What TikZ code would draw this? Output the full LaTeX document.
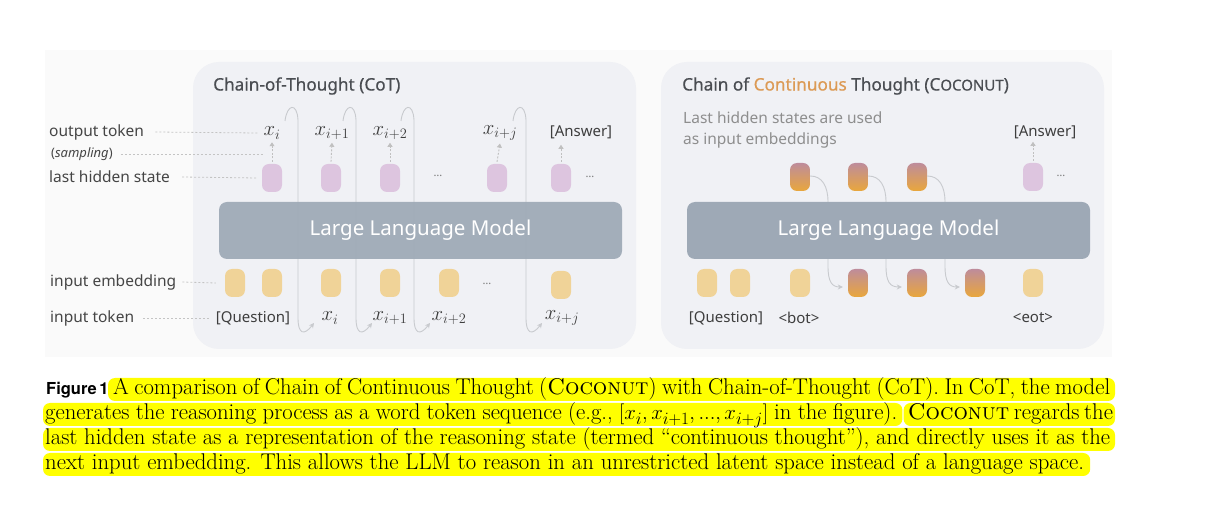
\documentclass[tikz,border=0pt]{standalone}
\usepackage{fontspec}
\newfontfamily\dg{Noto Sans}
\newfontfamily\dgt{Noto Sans}[FakeBold=0.5]
\newfontfamily\hv{TeX Gyre Heros}
\usetikzlibrary{arrows.meta,calc,backgrounds}
\definecolor{outerc}{HTML}{FAFAFA}
\definecolor{panelc}{HTML}{F0F1F5}
\definecolor{llmc}{HTML}{9EA9B6}
\definecolor{hidc}{HTML}{DDC5DF}
\definecolor{embc}{HTML}{F0D398}
\definecolor{gtop}{HTML}{BE8C9B}
\definecolor{gbot}{HTML}{E9A73C}
\definecolor{labc}{HTML}{454545}
\definecolor{tokc}{HTML}{3E3E3E}
\definecolor{ttlc}{HTML}{4A4D52}
\definecolor{subc}{HTML}{8E8E8E}
\definecolor{orc}{HTML}{DC9A55}
\definecolor{leadc}{HTML}{C4C4C4}
\definecolor{arrc}{HTML}{C0C0C0}
\definecolor{loopc}{HTML}{C8CACE}
\definecolor{dotc}{HTML}{777777}
\definecolor{hlc}{HTML}{FFFF00}
\newcommand\capf{\fontsize{22.7}{25}\selectfont}
\tikzset{
 panel/.style={fill=panelc, rounded corners=26pt},
 llmbox/.style={fill=llmc, rounded corners=8pt},
 tokbox/.style={minimum width=20pt, minimum height=28pt, rounded corners=7pt, inner sep=0pt},
 hidbox/.style={tokbox, fill=hidc},
 embbox/.style={tokbox, fill=embc},
 ctbox/.style={tokbox, top color=gtop, bottom color=gbot},
 lab/.style={font=\dg\fontsize{15.5}{18}\selectfont, text=labc, anchor=west},
 tokm/.style={font=\fontsize{20}{22}\selectfont, text=tokc},
 tokt/.style={font=\dg\fontsize{15}{18}\selectfont, text=tokc},
 dotsn/.style={font=\dg\fontsize{11}{12}\selectfont, text=dotc},
 leader/.style={draw=leadc, line width=0.8pt, dash pattern=on 2pt off 2pt},
 samparr/.style={draw=arrc, line width=0.9pt, dash pattern=on 2pt off 1.5pt, -{Triangle[length=4pt,width=5pt]}},
 loopline/.style={draw=loopc, line width=0.9pt, -{Stealth[length=5pt,width=5pt]}},
 llmtext/.style={font=\dg\fontsize{20.5}{24}\selectfont, text=white},
 ttl/.style={font=\dgt\fontsize{17.2}{21}\selectfont, text=ttlc, anchor=west},
 subt/.style={font=\dg\fontsize{15.5}{18}\selectfont, text=subc, anchor=west},
 hlband/.style={fill=hlc, rounded corners=7pt},
 captext/.style={font=\capf, anchor=base west},
}
\begin{document}
\begin{tikzpicture}[x=1pt,y=-1pt, every node/.style={inner sep=0pt}]
\useasboundingbox (0,0) rectangle (1208,510);
\begin{scope}[on background layer]
\fill[white] (0,0) rectangle (1208,510);
\fill[outerc] (45,50) rectangle (1112,357);
\end{scope}
% panels
\fill[panel] (193,62) rectangle (636,349);
\fill[panel] (661,62) rectangle (1104,349);
% titles
\node[ttl] (t1) at (213,86) {Chain-of-Thought (CoT)};
\node[ttl] (t2) at (682,86) {Chain of \textcolor{orc}{Continuous} Thought (C{\fontsize{15}{15}\selectfont OCONUT})};
\node[subt] (s1) at (683,118) {Last hidden states are used};
\node[subt] (s2) at (683,140) {as input embeddings};
% left labels
\node[lab] (Lout) at (49,132) {output token};
\node[lab, font=\dg\fontsize{13}{15}\selectfont] (Lsamp) at (51,154) {(\textit{sampling})};
\node[lab] (Lhid) at (49,177) {last hidden state};
\node[lab] (Lemb) at (50,282) {input embedding};
\node[lab] (Ltok) at (50,318) {input token};

% ---------- CoT ----------
\node[hidbox] (h1) at (272,178) {};
\node[hidbox] (h2) at (331,178) {};
\node[hidbox] (h3) at (390,178) {};
\node[hidbox] (h4) at (497,178) {};
\node[hidbox] (h5) at (561,178) {};
\node[dotsn] (hd1) at (438,176) {…};
\node[dotsn] (hd2) at (590,177) {…};
\node[tokm] (o1) at (272,133) {$x_i$};
\node[tokm] (o2) at (332,133) {$x_{i+1}$};
\node[tokm] (o3) at (390,133) {$x_{i+2}$};
\node[tokm] (o4) at (500,133) {$x_{i+j}$};
\node[tokt] (o5) at (581,132) {[Answer]};
\node[embbox] (e1) at (235,283) {};
\node[embbox] (e2) at (272,283) {};
\node[embbox] (e3) at (331,283) {};
\node[embbox] (e4) at (390,283) {};
\node[embbox] (e5) at (449,283) {};
\node[embbox] (e6) at (561,285) {};
\node[dotsn] (ed) at (487,284) {…};
\node[tokt] (q) at (253,318) {[Question]};
\node[tokm] (i1) at (330,318) {$x_i$};
\node[tokm] (i2) at (390,318) {$x_{i+1}$};
\node[tokm] (i3) at (449,318) {$x_{i+2}$};
\node[tokm] (i4) at (562,318) {$x_{i+j}$};
% leaders
\draw[leader] ([xshift=11pt]Lout.east) -- ([xshift=-6pt]o1.west);
\draw[leader] ([xshift=8pt]Lsamp.east) -- (o1.west |- Lsamp.east);
\draw[leader] ([xshift=12pt]Lhid.east) -- ([xshift=-4pt]h1.west);
\draw[leader] ([xshift=6pt]Lemb.east) -- ([xshift=-9pt]e1.west);
\draw[leader] ([xshift=9pt]Ltok.east) -- ([xshift=-7pt]q.west);
% sampling arrows
\foreach \h/\o in {h1/o1,h2/o2,h3/o3,h4/o4} {
  \draw[samparr] ([yshift=2pt]\h.north) -- ([yshift=-3pt]\o.south);
}
\draw[samparr] ([yshift=2pt]h5.north) -- ++(0,-17);
% loops
\foreach \v in {298,356,414,526} {
  \draw[loopline] (\v-13,121) .. controls (\v-11,104) and (\v-1,102) .. (\v,120)
     -- (\v,318) .. controls (\v,334) and (\v+6,336) .. (\v+16,323);
}
% LLM
\fill[llmbox, fill opacity=0.93] (219,202) rectangle (622,259);
\node[llmtext] (llm1) at (420.5,230) {Large Language Model};

% ---------- Coconut ----------
\node[ctbox] (c1) at (800,177) {};
\node[ctbox] (c2) at (858,177) {};
\node[ctbox] (c3) at (917,177) {};
\node[hidbox] (ch) at (1033,177) {};
\node[dotsn] (cd) at (1061,176) {…};
\node[tokt] (ca) at (1045,132) {[Answer]};
\draw[samparr] ([yshift=2pt]ch.north) -- ([yshift=-3pt]ca.south -| ch.north);
\node[embbox] (f1) at (707,283) {};
\node[embbox] (f2) at (740,283) {};
\node[embbox] (f3) at (800,283) {};
\node[ctbox] (c4) at (858,283) {};
\node[ctbox] (c5) at (917,283) {};
\node[ctbox] (c6) at (975,283) {};
\node[embbox] (f4) at (1033,283) {};
\node[tokt] (cq) at (726,318) {[Question]};
\node[tokt] (cb) at (799,318) {<bot>};
\node[tokt] (ce) at (1033,318) {<eot>};
\draw[loopline] ([yshift=1pt]c1.east) .. controls (822,176) and (828,186) .. (828,202) -- (828,266) .. controls (828,282) and (832,287) .. ([shift={(-5pt,-4pt)}]c4.west);
\draw[loopline] ([yshift=1pt]c2.east) .. controls (880,176) and (886,186) .. (886,202) -- (886,266) .. controls (886,282) and (890,287) .. ([shift={(-5pt,-4pt)}]c5.west);
\draw[loopline] ([yshift=1pt]c3.east) .. controls (939,176) and (945,186) .. (945,202) -- (945,266) .. controls (945,282) and (949,287) .. ([shift={(-5pt,-4pt)}]c6.west);
\fill[llmbox] (687,202) rectangle (1090,259);
\node[llmtext] (llm2) at (888.5,230) {Large Language Model};

% ---------- Caption ----------
\node[anchor=base west, font=\hv\bfseries\fontsize{16.5}{16}\selectfont] (fig) at (46,395) {Figure\,1};
\node[captext] (l1) at (113,395) {\hbox to 997pt{A comparison of Chain of Continuous Thought (\textsc{Coconut}) with Chain-of-Thought (CoT). In CoT, the model}};
\node[captext] (l2a) at (45,420) {\hbox to 852pt{generates the reasoning process as a word token sequence (e.g., $[x_i, x_{i+1}, ..., x_{i+j}]$ in the figure).}};
\node[captext, anchor=base east] (l2b) at (1110,420) {\hbox to 202pt{\textsc{Coconut} regards the}};
\node[captext] (l3) at (45,445) {\hbox to 1065pt{last hidden state as a representation of the reasoning state (termed ``continuous thought''), and directly uses it as the}};
\node[captext] (l4) at (45,470) {next input embedding. This allows the LLM to reason in an unrestricted latent space instead of a language space.};
\begin{scope}[on background layer]
\fill[hlband] (108,378) rectangle (1115,401);
\fill[hlband] (43,403) rectangle ([xshift=5pt]l2a.east |- 0,426);
\fill[hlband] ([xshift=-4pt]l2b.west |- 0,403) rectangle (1115,426);
\fill[hlband] (43,428) rectangle (1115,451);
\fill[hlband] (43,453) rectangle ([xshift=6pt]l4.east |- 0,476);
\end{scope}
\end{tikzpicture}
\end{document}
